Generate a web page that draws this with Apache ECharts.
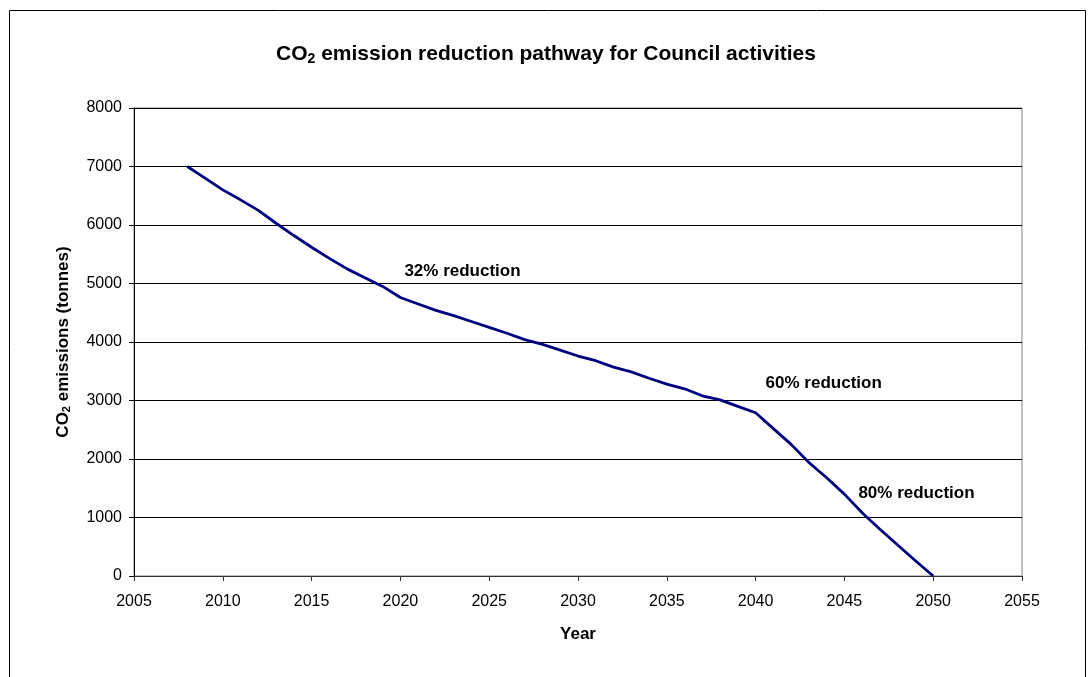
<!DOCTYPE html>
<html>
<head>
<meta charset="utf-8">
<script src="https://cdn.jsdelivr.net/npm/echarts@6/dist/echarts.min.js"></script>
<style>
  html, body { margin: 0; padding: 0; background: #fff; }
  #chart { width: 1092px; height: 677px; }
</style>
</head>
<body>
<div id="chart"></div>
<script>
// 年份和排放量（吨）
var years = [2008, 2009, 2010, 2011, 2012, 2013, 2014, 2015, 2016, 2017,
  2018, 2019, 2020, 2021, 2022, 2023, 2024, 2025, 2026, 2027,
  2028, 2029, 2030, 2031, 2032, 2033, 2034, 2035, 2036, 2037,
  2038, 2039, 2040, 2041, 2042, 2043, 2044, 2045, 2046, 2047,
  2048, 2049, 2050];
var emissions = [7000, 6800, 6600, 6430, 6250, 6030, 5820, 5620, 5430, 5250,
  5100, 4950, 4760, 4650, 4540, 4450, 4350, 4250, 4150, 4040,
  3960, 3860, 3760, 3680, 3570, 3490, 3380, 3280, 3200, 3080,
  3010, 2900, 2790, 2520, 2250, 1940, 1680, 1400, 1080, 800,
  530, 260, 0];

// 标注：减排里程碑
var milestones = [
  { year: 2020, value: 4760, text: '32% reduction', offset: [4, -26] },
  { year: 2040, value: 2790, text: '60% reduction', offset: [10, -29] },
  { year: 2045, value: 1400, text: '80% reduction', offset: [14, -1] }
];

var chart = echarts.init(document.getElementById('chart'));

var lineData = years.map(function (y, i) { return [y, emissions[i]]; });

var option = {
  backgroundColor: '#fff',
  animation: false,
  title: {
    text: '{b|CO}{s|2}{b| emission reduction pathway for Council activities}',
    left: 'center',
    top: 38,
    textStyle: {
      rich: {
        b: { fontFamily: 'Liberation Sans', fontWeight: 'bold', fontSize: 21, color: '#000' },
        s: { fontFamily: 'Liberation Sans', fontWeight: 'bold', fontSize: 14, color: '#000', verticalAlign: 'bottom', padding: [9, 0, 0, 0] }
      }
    }
  },
  graphic: [{
    type: 'rect',
    shape: { x: 9.5, y: 10.5, width: 1076, height: 700 },
    style: { fill: 'none', stroke: '#000', lineWidth: 1 },
    silent: true
  }],
  grid: {
    left: 134, right: 70, top: 108, bottom: 101,
    show: true, borderColor: '#808080', borderWidth: 1
  },
  xAxis: {
    type: 'value',
    min: 2005, max: 2055, interval: 5,
    name: 'Year',
    nameLocation: 'middle',
    nameGap: 50,
    nameTextStyle: { fontFamily: 'Liberation Sans', fontWeight: 'bold', fontSize: 17, color: '#000' },
    axisLine: { show: true, lineStyle: { color: '#333', width: 1 } },
    axisTick: { show: true, inside: false, length: 5, lineStyle: { color: '#333' } },
    axisLabel: { fontFamily: 'Liberation Sans', fontSize: 16, color: '#000', margin: 18, formatter: function (v) { return String(v); } },
    splitLine: { show: false }
  },
  yAxis: {
    type: 'value',
    min: 0, max: 8000, interval: 1000,
    name: '{b|CO}{s|2}{b| emissions (tonnes)}',
    nameLocation: 'middle',
    nameGap: 62,
    nameRotate: 90,
    nameTextStyle: {
      rich: {
        b: { fontFamily: 'Liberation Sans', fontWeight: 'bold', fontSize: 17, color: '#000' },
        s: { fontFamily: 'Liberation Sans', fontWeight: 'bold', fontSize: 11, color: '#000', verticalAlign: 'bottom', padding: [7, 0, 0, 0] }
      }
    },
    axisLine: { show: true, lineStyle: { color: '#000', width: 1 } },
    axisTick: { show: true, inside: false, length: 5, lineStyle: { color: '#000' } },
    axisLabel: { fontFamily: 'Liberation Sans', fontSize: 16, color: '#000', margin: 12, formatter: function (v) { return String(v); } },
    splitLine: { show: true, lineStyle: { color: '#000', width: 1 } }
  },
  series: [{
    type: 'line',
    data: lineData,
    showSymbol: false,
    lineStyle: { color: '#000080', width: 2.8 },
    z: 5,
    markPoint: {
      symbol: 'circle',
      symbolSize: 0,
      silent: true,
      data: milestones.map(function (m) {
        return {
          coord: [m.year, m.value],
          label: {
            show: true,
            formatter: m.text,
            position: 'right',
            distance: 0,
            offset: m.offset,
            fontFamily: 'Liberation Sans',
            fontWeight: 'bold',
            fontSize: 17,
            color: '#000'
          }
        };
      })
    }
  }]
};

chart.setOption(option);
</script>
</body>
</html>
